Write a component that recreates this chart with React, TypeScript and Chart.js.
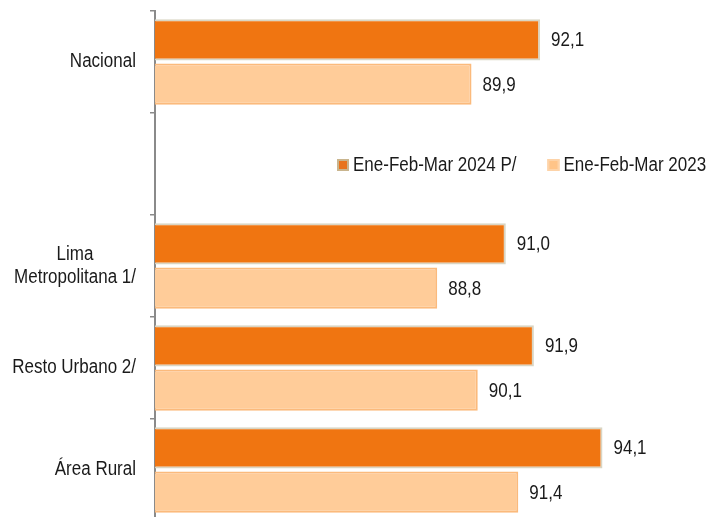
import React, { useEffect, useRef } from "react";
import { Chart, registerables } from "chart.js";

Chart.register(...registerables);

const categories: string[][] = [["Nacional"], [""], ["Lima", "Metropolitana 1/"], ["Resto Urbano 2/"], ["Área Rural"]];
const seriesLabels = ["Ene-Feb-Mar 2024 P/", "Ene-Feb-Mar 2023"];
const values2024: (number | null)[] = [92.1, null, 91.0, 91.9, 94.1];
const values2023: (number | null)[] = [89.9, null, 88.8, 90.1, 91.4];

const FONT = '20px "Liberation Sans", Arial, sans-serif';
const SX = 0.85;
const DARK = "#F07511";
const LIGHT = "#FFCC99";

const fmt = (v: number) => v.toFixed(1).replace(".", ",");

function drawText(ctx: CanvasRenderingContext2D, text: string, x: number, y: number, align: CanvasTextAlign) {
  ctx.save();
  ctx.translate(x, y);
  ctx.scale(SX, 1);
  ctx.textAlign = align;
  ctx.fillText(text, 0, 0);
  ctx.restore();
}

const labelPlugin = {
  id: "customLabels",
  afterDatasetsDraw(chart: any) {
    const ctx: CanvasRenderingContext2D = chart.ctx;
    ctx.save();
    ctx.font = FONT;
    ctx.fillStyle = "#1a1a1a";
    ctx.textBaseline = "middle";
    chart.data.datasets.forEach((ds: any, di: number) => {
      const meta = chart.getDatasetMeta(di);
      meta.data.forEach((el: any, i: number) => {
        const v = ds.data[i];
        if (v == null) return;
        drawText(ctx, fmt(v), el.x + 11, el.y + 1, "left");
      });
    });
    // category labels
    const y = chart.scales.y;
    const right = 136;
    const lineH = 23;
    categories.forEach((lines, i) => {
      const cy = y.getPixelForValue(i);
      let maxW = 0;
      lines.forEach((l) => (maxW = Math.max(maxW, ctx.measureText(l).width * SX)));
      const cx = right - maxW / 2;
      const startY = cy - ((lines.length - 1) * lineH) / 2 - (lines.length > 1 ? 0 : 1);
      lines.forEach((l, k) => drawText(ctx, l, cx, startY + k * lineH, "center"));
    });
    // legend in the empty slot
    const ly = y.getPixelForValue(1) + 1;
    let lx = 337;
    chart.data.datasets.forEach((ds: any, di: number) => {
      ctx.fillStyle = di === 0 ? "#E8741E" : "#FFC488";
      ctx.strokeStyle = di === 0 ? "#C9B58E" : "#FDD3A8";
      ctx.lineWidth = 2;
      ctx.fillRect(lx, ly - 6, 12, 12);
      ctx.strokeRect(lx + 1, ly - 5, 10, 10);
      ctx.fillStyle = "#1a1a1a";
      drawText(ctx, ds.label, lx + 16, ly, "left");
      lx += 16 + ctx.measureText(ds.label).width * SX + 31;
    });
    ctx.restore();
  },
};

export default function App() {
  const ref = useRef<HTMLCanvasElement | null>(null);
  useEffect(() => {
    if (!ref.current) return;
    const chart = new Chart(ref.current, {
      type: "bar",
      data: {
        labels: categories,
        datasets: [
          {
            label: seriesLabels[0],
            data: values2024,
            backgroundColor: DARK,
            borderColor: "#D9D5C3",
            borderWidth: 2,
            borderSkipped: "start",
            categoryPercentage: 0.87,
            barPercentage: 0.93,
          },
          {
            label: seriesLabels[1],
            data: values2023,
            backgroundColor: LIGHT,
            borderColor: "#FBBA7C",
            borderWidth: 2,
            borderSkipped: "start",
            categoryPercentage: 0.87,
            barPercentage: 0.93,
          },
        ],
      } as any,
      options: {
        indexAxis: "y",
        animation: false,
        responsive: false,
        layout: { padding: { top: 11, bottom: 9, left: 0, right: 0 } },
        plugins: { legend: { display: false }, tooltip: { enabled: false } },
        scales: {
          x: { display: false, min: 79.75, max: 97.74 },
          y: {
            ticks: { display: false },
            grid: { display: true, drawOnChartArea: false, drawTicks: true, tickLength: 5, color: "#8a8a8a", lineWidth: 1.5, offset: true },
            border: { display: true, color: "#8a8a8a", width: 2 },
            afterFit: (s: any) => {
              s.width = 155;
            },
          },
        },
      } as any,
      plugins: [labelPlugin],
    });
    return () => chart.destroy();
  }, []);
  return (
    <div style={{ position: "fixed", left: 0, top: 0, width: 716, height: 517, overflow: "hidden", background: "#fff" }}>
      <canvas ref={ref} width={716} height={530} style={{ display: "block" }} />
    </div>
  );
}
